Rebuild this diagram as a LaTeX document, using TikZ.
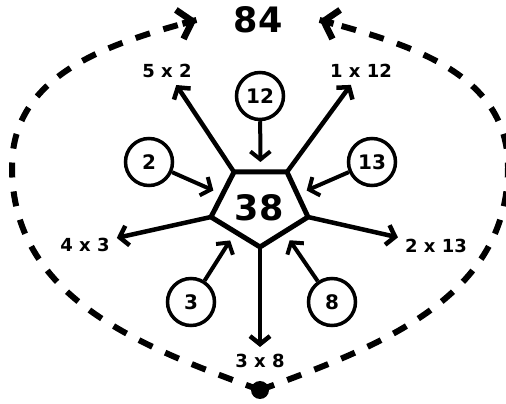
\documentclass[tikz,border=0pt]{standalone}
\usepackage{fontspec}
\setmainfont{DejaVu Sans}
\usetikzlibrary{arrows.meta,calc}
\tikzset{
  num/.style  ={circle, draw, line width=3.5pt, minimum size=47pt, inner sep=0pt,
                font=\bfseries\fontsize{20}{22}\selectfont},
  prod/.style ={inner sep=7pt, font=\bfseries\fontsize{18}{20}\selectfont},
  big/.style  ={font=\bfseries\fontsize{35}{38}\selectfont},
  flow/.style ={-{Straight Barb[length=8pt,width=20pt]}, line width=4.5pt},
  feed/.style ={flow, line width=4pt, shorten >=10pt},
  loop/.style ={line width=6pt, dash pattern=on 15pt off 14pt},
  looptip/.style={-{Straight Barb[length=13pt,width=30pt]}, line width=6.5pt},
}
\begin{document}
\begin{tikzpicture}[x=1pt,y=1pt]
    \useasboundingbox (0,0) rectangle (506,404);

    % pentagon
    \coordinate (tl) at (234,232);
    \coordinate (tr) at (287,232);
    \coordinate (rt) at (308,187);
    \coordinate (bt) at (260,157);
    \coordinate (lt) at (211,187);
    \draw[line width=5pt] (tl) -- (tr) -- (rt) -- (bt) -- (lt) -- cycle;
    \node[big] (sum) at (259,196) {38};

    % edge midpoints
    \coordinate (etop) at ($(tl)!.5!(tr)$);
    \coordinate (eul)  at ($(tl)!.5!(lt)$);
    \coordinate (eur)  at ($(tr)!.5!(rt)$);
    \coordinate (ell)  at ($(lt)!.5!(bt)$);
    \coordinate (elr)  at ($(rt)!.5!(bt)$);

    % factors
    \node[num] (n12) at (260,308) {12};
    \node[num] (n2)  at (149,242) {2};
    \node[num] (n13) at (372,242) {13};
    \node[num] (n3)  at (191,102) {3};
    \node[num] (n8)  at (332,102) {8};
    \draw[feed] (n12) -- (etop);
    \draw[feed] (n2)  -- (eul);
    \draw[feed] (n13) -- (eur);
    \draw[feed] (n3)  -- (ell);
    \draw[feed] (n8)  -- (elr);

    % products
    \node[prod] (p52)  at (167,333) {5 x 2};
    \node[prod] (p112) at (361,333) {1 x 12};
    \node[prod] (p43)  at (85,159)  {4 x 3};
    \node[prod] (p213) at (436,158) {2 x 13};
    \node[prod] (p38)  at (260,43)  {3 x 8};
    \draw[flow] (tl) -- (p52);
    \draw[flow] (tr) -- (p112);
    \draw[flow] (lt) -- (p43);
    \draw[flow] (rt) -- (p213);
    \draw[flow] (bt) -- (p38);

    % total
    \node[big, inner xsep=37pt] (total) at (258,384) {84};
    \node[circle, fill, minimum size=18pt, inner sep=0pt] (dot) at (260,14) {};
    \coordinate (lft) at (12,237);
    \coordinate (rgt) at (508,237);
    \draw[loop] (dot.center) to[out=160,in=-90] (lft) to[out=90,in=195] (total.west);
    \draw[loop] (dot.center) to[out=20,in=-90] (rgt) to[out=90,in=-15] (total.east);
    \coordinate (lend) at ($(total.west)+(-14,-3.7)$);
    \coordinate (rend) at ($(total.east)+(14,-3.7)$);
    \draw[looptip] (lend) -- (total.west);
    \draw[looptip] (rend) -- (total.east);
\end{tikzpicture}
\end{document}
